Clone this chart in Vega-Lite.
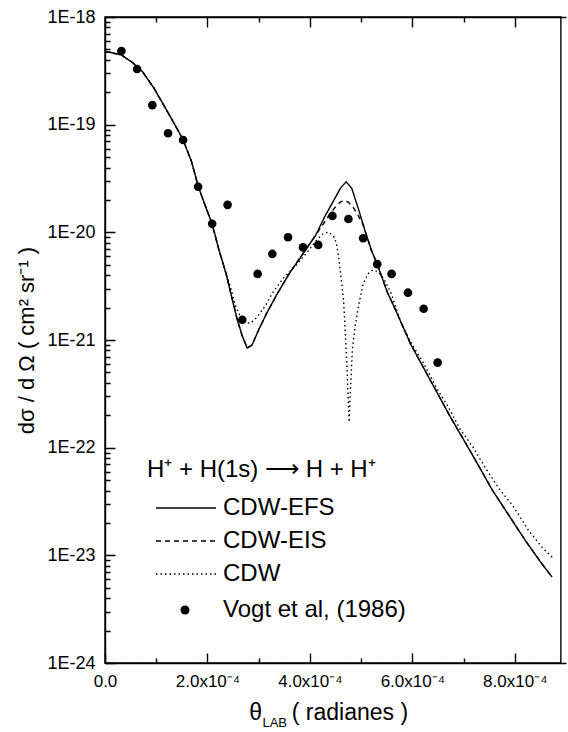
{
  "$schema": "https://vega.github.io/schema/vega-lite/v6.json",
  "width": 461,
  "height": 646,
  "autosize": {"type": "none"},
  "padding": {"left": 105, "top": 17, "right": 2, "bottom": 69},
  "config": {
    "font": "Liberation Sans",
    "view": {"stroke": null},
    "axis": {"grid": false, "labelColor": "black", "titleColor": "black", "labelFlush": false, "labelOverlap": false, "domainColor": "black", "domainWidth": 1.4, "domainDash": [1, 0], "tickColor": "black", "tickWidth": 1.4, "tickDash": [1, 0]}
  },
  "datasets": {
    "curves": [
      {"series": "CDW-EFS", "theta": 0, "dsigma": 4.73e-19},
      {"series": "CDW-EFS", "theta": 9.6e-6, "dsigma": 4.70e-19},
      {"series": "CDW-EFS", "theta": 3.20e-5, "dsigma": 4.44e-19},
      {"series": "CDW-EFS", "theta": 5.42e-5, "dsigma": 3.76e-19},
      {"series": "CDW-EFS", "theta": 7.33e-5, "dsigma": 3.10e-19},
      {"series": "CDW-EFS", "theta": 9.57e-5, "dsigma": 2.18e-19},
      {"series": "CDW-EFS", "theta": 1.181e-4, "dsigma": 1.42e-19},
      {"series": "CDW-EFS", "theta": 1.403e-4, "dsigma": 9.25e-20},
      {"series": "CDW-EFS", "theta": 1.525e-4, "dsigma": 7.20e-20},
      {"series": "CDW-EFS", "theta": 1.690e-4, "dsigma": 4.53e-20},
      {"series": "CDW-EFS", "theta": 1.818e-4, "dsigma": 2.69e-20},
      {"series": "CDW-EFS", "theta": 1.977e-4, "dsigma": 1.67e-20},
      {"series": "CDW-EFS", "theta": 2.092e-4, "dsigma": 1.195e-20},
      {"series": "CDW-EFS", "theta": 2.220e-4, "dsigma": 7.0e-21},
      {"series": "CDW-EFS", "theta": 2.360e-4, "dsigma": 4.19e-21},
      {"series": "CDW-EFS", "theta": 2.488e-4, "dsigma": 2.35e-21},
      {"series": "CDW-EFS", "theta": 2.584e-4, "dsigma": 1.53e-21},
      {"series": "CDW-EFS", "theta": 2.680e-4, "dsigma": 1.09e-21},
      {"series": "CDW-EFS", "theta": 2.775e-4, "dsigma": 8.43e-22},
      {"series": "CDW-EFS", "theta": 2.871e-4, "dsigma": 8.99e-22},
      {"series": "CDW-EFS", "theta": 2.999e-4, "dsigma": 1.24e-21},
      {"series": "CDW-EFS", "theta": 3.158e-4, "dsigma": 1.78e-21},
      {"series": "CDW-EFS", "theta": 3.350e-4, "dsigma": 2.62e-21},
      {"series": "CDW-EFS", "theta": 3.604e-4, "dsigma": 4.19e-21},
      {"series": "CDW-EFS", "theta": 3.861e-4, "dsigma": 6.29e-21},
      {"series": "CDW-EFS", "theta": 4.115e-4, "dsigma": 9.45e-21},
      {"series": "CDW-EFS", "theta": 4.307e-4, "dsigma": 1.449e-20},
      {"series": "CDW-EFS", "theta": 4.435e-4, "dsigma": 1.86e-20},
      {"series": "CDW-EFS", "theta": 4.594e-4, "dsigma": 2.56e-20},
      {"series": "CDW-EFS", "theta": 4.708e-4, "dsigma": 2.95e-20},
      {"series": "CDW-EFS", "theta": 4.818e-4, "dsigma": 2.56e-20},
      {"series": "CDW-EFS", "theta": 4.944e-4, "dsigma": 1.67e-20},
      {"series": "CDW-EFS", "theta": 5.072e-4, "dsigma": 1.051e-20},
      {"series": "CDW-EFS", "theta": 5.200e-4, "dsigma": 6.86e-21},
      {"series": "CDW-EFS", "theta": 5.327e-4, "dsigma": 4.87e-21},
      {"series": "CDW-EFS", "theta": 5.518e-4, "dsigma": 2.73e-21},
      {"series": "CDW-EFS", "theta": 5.646e-4, "dsigma": 2.03e-21},
      {"series": "CDW-EFS", "theta": 5.966e-4, "dsigma": 9.18e-22},
      {"series": "CDW-EFS", "theta": 6.349e-4, "dsigma": 4.25e-22},
      {"series": "CDW-EFS", "theta": 6.732e-4, "dsigma": 1.97e-22},
      {"series": "CDW-EFS", "theta": 7.241e-4, "dsigma": 7.52e-23},
      {"series": "CDW-EFS", "theta": 7.560e-4, "dsigma": 4.05e-23},
      {"series": "CDW-EFS", "theta": 7.880e-4, "dsigma": 2.37e-23},
      {"series": "CDW-EFS", "theta": 8.198e-4, "dsigma": 1.39e-23},
      {"series": "CDW-EFS", "theta": 8.517e-4, "dsigma": 8.49e-24},
      {"series": "CDW-EFS", "theta": 8.728e-4, "dsigma": 6.29e-24},

      {"series": "CDW-EIS", "theta": 0, "dsigma": 4.73e-19},
      {"series": "CDW-EIS", "theta": 9.6e-6, "dsigma": 4.70e-19},
      {"series": "CDW-EIS", "theta": 3.20e-5, "dsigma": 4.44e-19},
      {"series": "CDW-EIS", "theta": 5.42e-5, "dsigma": 3.76e-19},
      {"series": "CDW-EIS", "theta": 7.33e-5, "dsigma": 3.10e-19},
      {"series": "CDW-EIS", "theta": 9.57e-5, "dsigma": 2.18e-19},
      {"series": "CDW-EIS", "theta": 1.181e-4, "dsigma": 1.42e-19},
      {"series": "CDW-EIS", "theta": 1.403e-4, "dsigma": 9.25e-20},
      {"series": "CDW-EIS", "theta": 1.525e-4, "dsigma": 7.20e-20},
      {"series": "CDW-EIS", "theta": 1.690e-4, "dsigma": 4.53e-20},
      {"series": "CDW-EIS", "theta": 1.818e-4, "dsigma": 2.69e-20},
      {"series": "CDW-EIS", "theta": 1.977e-4, "dsigma": 1.67e-20},
      {"series": "CDW-EIS", "theta": 2.092e-4, "dsigma": 1.195e-20},
      {"series": "CDW-EIS", "theta": 2.220e-4, "dsigma": 7.0e-21},
      {"series": "CDW-EIS", "theta": 2.360e-4, "dsigma": 4.19e-21},
      {"series": "CDW-EIS", "theta": 2.488e-4, "dsigma": 2.35e-21},
      {"series": "CDW-EIS", "theta": 2.584e-4, "dsigma": 1.53e-21},
      {"series": "CDW-EIS", "theta": 2.680e-4, "dsigma": 1.09e-21},
      {"series": "CDW-EIS", "theta": 2.775e-4, "dsigma": 8.43e-22},
      {"series": "CDW-EIS", "theta": 2.871e-4, "dsigma": 8.99e-22},
      {"series": "CDW-EIS", "theta": 2.999e-4, "dsigma": 1.24e-21},
      {"series": "CDW-EIS", "theta": 3.158e-4, "dsigma": 1.78e-21},
      {"series": "CDW-EIS", "theta": 3.350e-4, "dsigma": 2.62e-21},
      {"series": "CDW-EIS", "theta": 3.604e-4, "dsigma": 4.19e-21},
      {"series": "CDW-EIS", "theta": 3.861e-4, "dsigma": 6.29e-21},
      {"series": "CDW-EIS", "theta": 4.115e-4, "dsigma": 9.45e-21},
      {"series": "CDW-EIS", "theta": 4.249e-4, "dsigma": 1.17e-20},
      {"series": "CDW-EIS", "theta": 4.364e-4, "dsigma": 1.418e-20},
      {"series": "CDW-EIS", "theta": 4.498e-4, "dsigma": 1.72e-20},
      {"series": "CDW-EIS", "theta": 4.594e-4, "dsigma": 1.91e-20},
      {"series": "CDW-EIS", "theta": 4.670e-4, "dsigma": 1.975e-20},
      {"series": "CDW-EIS", "theta": 4.747e-4, "dsigma": 1.91e-20},
      {"series": "CDW-EIS", "theta": 4.842e-4, "dsigma": 1.72e-20},
      {"series": "CDW-EIS", "theta": 4.938e-4, "dsigma": 1.449e-20},
      {"series": "CDW-EIS", "theta": 5.040e-4, "dsigma": 1.17e-20},
      {"series": "CDW-EIS", "theta": 5.200e-4, "dsigma": 6.86e-21},
      {"series": "CDW-EIS", "theta": 5.327e-4, "dsigma": 4.87e-21},
      {"series": "CDW-EIS", "theta": 5.518e-4, "dsigma": 2.73e-21},
      {"series": "CDW-EIS", "theta": 5.646e-4, "dsigma": 2.03e-21},
      {"series": "CDW-EIS", "theta": 5.966e-4, "dsigma": 9.18e-22},
      {"series": "CDW-EIS", "theta": 6.349e-4, "dsigma": 4.25e-22},
      {"series": "CDW-EIS", "theta": 6.732e-4, "dsigma": 1.97e-22},
      {"series": "CDW-EIS", "theta": 7.241e-4, "dsigma": 7.52e-23},
      {"series": "CDW-EIS", "theta": 7.560e-4, "dsigma": 4.05e-23},
      {"series": "CDW-EIS", "theta": 7.880e-4, "dsigma": 2.37e-23},
      {"series": "CDW-EIS", "theta": 8.198e-4, "dsigma": 1.39e-23},
      {"series": "CDW-EIS", "theta": 8.517e-4, "dsigma": 8.49e-24},
      {"series": "CDW-EIS", "theta": 8.728e-4, "dsigma": 6.29e-24},

      {"series": "CDW", "theta": 0, "dsigma": 4.73e-19},
      {"series": "CDW", "theta": 9.6e-6, "dsigma": 4.70e-19},
      {"series": "CDW", "theta": 3.20e-5, "dsigma": 4.44e-19},
      {"series": "CDW", "theta": 5.42e-5, "dsigma": 3.76e-19},
      {"series": "CDW", "theta": 7.33e-5, "dsigma": 3.10e-19},
      {"series": "CDW", "theta": 9.57e-5, "dsigma": 2.18e-19},
      {"series": "CDW", "theta": 1.181e-4, "dsigma": 1.42e-19},
      {"series": "CDW", "theta": 1.403e-4, "dsigma": 9.25e-20},
      {"series": "CDW", "theta": 1.525e-4, "dsigma": 7.20e-20},
      {"series": "CDW", "theta": 1.690e-4, "dsigma": 4.53e-20},
      {"series": "CDW", "theta": 1.818e-4, "dsigma": 2.69e-20},
      {"series": "CDW", "theta": 1.977e-4, "dsigma": 1.67e-20},
      {"series": "CDW", "theta": 2.092e-4, "dsigma": 1.195e-20},
      {"series": "CDW", "theta": 2.220e-4, "dsigma": 7.0e-21},
      {"series": "CDW", "theta": 2.329e-4, "dsigma": 4.66e-21},
      {"series": "CDW", "theta": 2.456e-4, "dsigma": 3.04e-21},
      {"series": "CDW", "theta": 2.551e-4, "dsigma": 2.04e-21},
      {"series": "CDW", "theta": 2.647e-4, "dsigma": 1.646e-21},
      {"series": "CDW", "theta": 2.743e-4, "dsigma": 1.448e-21},
      {"series": "CDW", "theta": 2.838e-4, "dsigma": 1.43e-21},
      {"series": "CDW", "theta": 2.967e-4, "dsigma": 1.625e-21},
      {"series": "CDW", "theta": 3.126e-4, "dsigma": 2.07e-21},
      {"series": "CDW", "theta": 3.286e-4, "dsigma": 2.81e-21},
      {"series": "CDW", "theta": 3.489e-4, "dsigma": 3.79e-21},
      {"series": "CDW", "theta": 3.719e-4, "dsigma": 4.87e-21},
      {"series": "CDW", "theta": 3.956e-4, "dsigma": 6.61e-21},
      {"series": "CDW", "theta": 4.134e-4, "dsigma": 8.49e-21},
      {"series": "CDW", "theta": 4.249e-4, "dsigma": 9.65e-21},
      {"series": "CDW", "theta": 4.364e-4, "dsigma": 1.007e-20},
      {"series": "CDW", "theta": 4.460e-4, "dsigma": 9.25e-21},
      {"series": "CDW", "theta": 4.517e-4, "dsigma": 7.96e-21},
      {"series": "CDW", "theta": 4.561e-4, "dsigma": 5.94e-21},
      {"series": "CDW", "theta": 4.607e-4, "dsigma": 3.87e-21},
      {"series": "CDW", "theta": 4.657e-4, "dsigma": 2.35e-21},
      {"series": "CDW", "theta": 4.689e-4, "dsigma": 1.24e-21},
      {"series": "CDW", "theta": 4.718e-4, "dsigma": 6.52e-22},
      {"series": "CDW", "theta": 4.741e-4, "dsigma": 3.43e-22},
      {"series": "CDW", "theta": 4.766e-4, "dsigma": 1.73e-22},
      {"series": "CDW", "theta": 4.785e-4, "dsigma": 2.96e-22},
      {"series": "CDW", "theta": 4.804e-4, "dsigma": 4.53e-22},
      {"series": "CDW", "theta": 4.829e-4, "dsigma": 8.08e-22},
      {"series": "CDW", "theta": 4.881e-4, "dsigma": 1.32e-21},
      {"series": "CDW", "theta": 4.944e-4, "dsigma": 2.03e-21},
      {"series": "CDW", "theta": 5.040e-4, "dsigma": 3.31e-21},
      {"series": "CDW", "theta": 5.130e-4, "dsigma": 4.10e-21},
      {"series": "CDW", "theta": 5.225e-4, "dsigma": 4.47e-21},
      {"series": "CDW", "theta": 5.340e-4, "dsigma": 4.28e-21},
      {"series": "CDW", "theta": 5.455e-4, "dsigma": 3.61e-21},
      {"series": "CDW", "theta": 5.583e-4, "dsigma": 2.73e-21},
      {"series": "CDW", "theta": 5.775e-4, "dsigma": 1.47e-21},
      {"series": "CDW", "theta": 5.966e-4, "dsigma": 9.58e-22},
      {"series": "CDW", "theta": 6.221e-4, "dsigma": 6.08e-22},
      {"series": "CDW", "theta": 6.475e-4, "dsigma": 3.56e-22},
      {"series": "CDW", "theta": 6.699e-4, "dsigma": 2.40e-22},
      {"series": "CDW", "theta": 6.923e-4, "dsigma": 1.51e-22},
      {"series": "CDW", "theta": 7.178e-4, "dsigma": 1.02e-22},
      {"series": "CDW", "theta": 7.432e-4, "dsigma": 6.43e-23},
      {"series": "CDW", "theta": 7.689e-4, "dsigma": 4.19e-23},
      {"series": "CDW", "theta": 7.976e-4, "dsigma": 2.83e-23},
      {"series": "CDW", "theta": 8.263e-4, "dsigma": 1.72e-23},
      {"series": "CDW", "theta": 8.550e-4, "dsigma": 1.16e-23},
      {"series": "CDW", "theta": 8.747e-4, "dsigma": 9.45e-24}
    ],
    "exp": [
      {"series": "Vogt et al, (1986)", "theta": 3.20e-5, "dsigma": 4.83e-19},
      {"series": "Vogt et al, (1986)", "theta": 6.26e-5, "dsigma": 3.29e-19},
      {"series": "Vogt et al, (1986)", "theta": 9.24e-5, "dsigma": 1.52e-19},
      {"series": "Vogt et al, (1986)", "theta": 1.231e-4, "dsigma": 8.32e-20},
      {"series": "Vogt et al, (1986)", "theta": 1.525e-4, "dsigma": 7.21e-20},
      {"series": "Vogt et al, (1986)", "theta": 1.818e-4, "dsigma": 2.65e-20},
      {"series": "Vogt et al, (1986)", "theta": 2.092e-4, "dsigma": 1.20e-20},
      {"series": "Vogt et al, (1986)", "theta": 2.393e-4, "dsigma": 1.80e-20},
      {"series": "Vogt et al, (1986)", "theta": 2.680e-4, "dsigma": 1.54e-21},
      {"series": "Vogt et al, (1986)", "theta": 2.980e-4, "dsigma": 4.11e-21},
      {"series": "Vogt et al, (1986)", "theta": 3.267e-4, "dsigma": 6.30e-21},
      {"series": "Vogt et al, (1986)", "theta": 3.573e-4, "dsigma": 9.0e-21},
      {"series": "Vogt et al, (1986)", "theta": 3.866e-4, "dsigma": 7.24e-21},
      {"series": "Vogt et al, (1986)", "theta": 4.163e-4, "dsigma": 7.64e-21},
      {"series": "Vogt et al, (1986)", "theta": 4.440e-4, "dsigma": 1.42e-20},
      {"series": "Vogt et al, (1986)", "theta": 4.752e-4, "dsigma": 1.33e-20},
      {"series": "Vogt et al, (1986)", "theta": 5.040e-4, "dsigma": 8.81e-21},
      {"series": "Vogt et al, (1986)", "theta": 5.315e-4, "dsigma": 5.06e-21},
      {"series": "Vogt et al, (1986)", "theta": 5.595e-4, "dsigma": 4.11e-21},
      {"series": "Vogt et al, (1986)", "theta": 5.914e-4, "dsigma": 2.75e-21},
      {"series": "Vogt et al, (1986)", "theta": 6.221e-4, "dsigma": 1.95e-21},
      {"series": "Vogt et al, (1986)", "theta": 6.494e-4, "dsigma": 6.17e-22}
    ]
  },
  "layer": [
    {
      "data": {"values": [{}]},
      "mark": {"type": "rect", "filled": false, "color": "black", "strokeWidth": 1.4, "strokeDash": [1, 0]},
      "encoding": {
        "x": {"datum": 0, "type": "quantitative", "scale": {"domain": [0, 0.00088]}, "axis": null},
        "x2": {"datum": 0.00089},
        "y": {"datum": 1e-24, "type": "quantitative", "scale": {"type": "log", "domain": [1e-24, 1e-18]}, "axis": null},
        "y2": {"datum": 1e-18}
      }
    },
    {
      "data": {"name": "curves"},
      "mark": {"type": "line", "color": "black", "strokeWidth": 1.4},
      "encoding": {
        "x": {
          "field": "theta", "type": "quantitative",
          "axis": {
            "orient": "bottom", "title": null, "domain": true, "ticks": true,
            "values": [0, 0.0002, 0.0004, 0.0006, 0.0008],
            "tickSize": -10,
            "labelExpr": "datum.value == 0 ? '0.0' : format(datum.value*1e4, '.1f') + 'x10⁻⁴'",
            "labelFontSize": 17, "labelPadding": 20
          }
        },
        "y": {
          "field": "dsigma", "type": "quantitative",
          "axis": {
            "orient": "left", "domain": true, "ticks": true,
            "title": "dσ / d Ω ( cm² sr⁻¹ )", "titleFontSize": 22, "titleFontWeight": "normal", "titlePadding": 8,
            "values": [1e-24, 1e-23, 1e-22, 1e-21, 1e-20, 1e-19, 1e-18],
            "tickSize": -10,
            "labelExpr": "'1E' + round(log(datum.value)/LN10)",
            "labelFontSize": 18, "labelPadding": 20
          }
        },
        "strokeDash": {
          "field": "series", "type": "nominal",
          "scale": {"domain": ["CDW-EFS", "CDW-EIS", "CDW"], "range": [[1, 0], [5, 4], [1.5, 3]]},
          "legend": {
            "orient": "none", "legendX": 42, "legendY": 441, "padding": 0,
            "title": "H⁺ + H(1s) ⟶ H + H⁺", "titleFontSize": 24, "titleFontWeight": "normal", "titleColor": "black", "titlePadding": 14, "titleLimit": 400,
            "labelFontSize": 24, "labelColor": "black", "labelLimit": 300, "labelOffset": 25,
            "symbolType": "M-3,0H3", "symbolSize": 400, "symbolStrokeWidth": 1.4, "symbolStrokeColor": "black", "symbolOffset": 27,
            "rowPadding": 9
          }
        }
      }
    },
    {
      "data": {"name": "exp"},
      "mark": {"type": "point", "filled": true, "color": "black", "opacity": 1, "size": 75},
      "encoding": {
        "x": {
          "field": "theta", "type": "quantitative",
          "axis": {
            "orient": "top", "title": null, "labels": false, "domain": true, "ticks": true,
            "values": [0, 0.0002, 0.0004, 0.0006, 0.0008],
            "tickSize": -10
          }
        },
        "y": {
          "field": "dsigma", "type": "quantitative",
          "axis": {
            "orient": "left", "title": null, "labels": false, "domain": false, "ticks": true,
            "values": [2e-24, 3e-24, 4e-24, 5e-24, 6e-24, 7e-24, 8e-24, 9e-24,
                       2e-23, 3e-23, 4e-23, 5e-23, 6e-23, 7e-23, 8e-23, 9e-23,
                       2e-22, 3e-22, 4e-22, 5e-22, 6e-22, 7e-22, 8e-22, 9e-22,
                       2e-21, 3e-21, 4e-21, 5e-21, 6e-21, 7e-21, 8e-21, 9e-21,
                       2e-20, 3e-20, 4e-20, 5e-20, 6e-20, 7e-20, 8e-20, 9e-20,
                       2e-19, 3e-19, 4e-19, 5e-19, 6e-19, 7e-19, 8e-19, 9e-19],
            "tickSize": -5
          }
        },
        "shape": {
          "field": "series", "type": "nominal",
          "scale": {"range": ["circle"]},
          "legend": {
            "orient": "none", "legendX": 68, "legendY": 581, "padding": 0, "title": null,
            "labelFontSize": 24, "labelColor": "black", "labelLimit": 300, "labelOffset": 26,
            "symbolSize": 80, "symbolFillColor": "black", "symbolStrokeColor": "black", "symbolOpacity": 1
          }
        }
      }
    },
    {
      "data": {"values": [{"t": "θ"}]},
      "mark": {"type": "text", "fontSize": 23, "align": "center", "baseline": "alphabetic", "dy": 57, "color": "black"},
      "encoding": {
        "x": {
          "datum": 0.000294, "type": "quantitative",
          "axis": {"orient": "bottom", "title": null, "labels": false, "domain": false, "ticks": true, "values": [0.0001, 0.0003, 0.0005, 0.0007], "tickSize": -5}
        },
        "y": {"datum": 1e-24, "type": "quantitative", "axis": null},
        "text": {"field": "t"}
      }
    },
    {
      "data": {"values": [{"t": "LAB"}]},
      "mark": {"type": "text", "fontSize": 13, "align": "left", "baseline": "alphabetic", "dy": 64, "color": "black"},
      "encoding": {
        "x": {
          "datum": 0.0003073, "type": "quantitative",
          "axis": {"orient": "top", "title": null, "labels": false, "domain": false, "ticks": true, "values": [0.0001, 0.0003, 0.0005, 0.0007], "tickSize": -5}
        },
        "y": {"datum": 1e-24, "type": "quantitative", "axis": null},
        "text": {"field": "t"}
      }
    },
    {
      "data": {"values": [{"t": "( radianes )"}]},
      "mark": {"type": "text", "fontSize": 23, "align": "left", "baseline": "alphabetic", "dy": 57, "color": "black"},
      "encoding": {
        "x": {"datum": 0.0003646, "type": "quantitative", "axis": null},
        "y": {"datum": 1e-24, "type": "quantitative", "axis": null},
        "text": {"field": "t"}
      }
    }
  ],
  "resolve": {"axis": {"x": "independent", "y": "independent"}}
}
